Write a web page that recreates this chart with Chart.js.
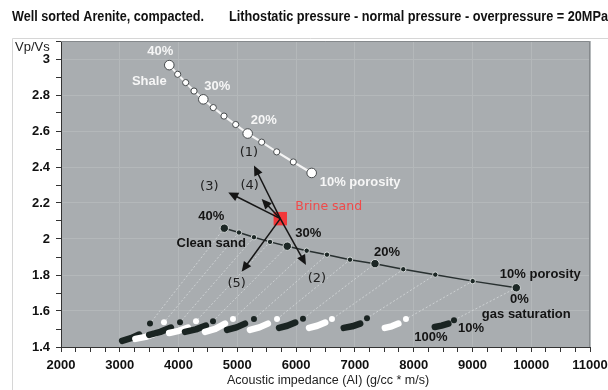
<!DOCTYPE html>
<html>
<head>
<meta charset="utf-8">
<script src="https://cdn.jsdelivr.net/npm/chart.js@4/dist/chart.umd.min.js"></script>
<style>
  html, body { margin: 0; padding: 0; background: #fff; }
  #wrap { width: 608px; height: 390px; }
</style>
</head>
<body>
<div id="wrap"><canvas id="rpt" width="608" height="390"></canvas></div>
<script>
// Shale trend, 40% -> 10% porosity in 2.5% steps
const shaleAI = [3842, 3985, 4121, 4263, 4421, 4591, 4773, 4972, 5176, 5414, 5670, 5952, 6265];
const shaleVpVs = [2.966, 2.915, 2.869, 2.822, 2.776, 2.730, 2.683, 2.636, 2.586, 2.538, 2.484, 2.428, 2.367];

// Clean (brine) sand trend, same porosity steps
const porosity = [40, 37.5, 35, 32.5, 30, 27.5, 25, 22.5, 20, 17.5, 15, 12.5, 10];
const sandAI = [4778, 5028, 5283, 5556, 5850, 6180, 6525, 6917, 7342, 7823, 8368, 9004, 9746];
const sandVpVs = [2.060, 2.036, 2.010, 1.984, 1.960, 1.935, 1.913, 1.885, 1.863, 1.832, 1.802, 1.766, 1.729];

// Gas saturation clusters, one per porosity step
const gas100AI = [3040, 3265, 3500, 3840, 4110, 4450, 4825, 5215, 5710, 6220, 6810, 7510, 8360];
const gas100VpVs = [1.434, 1.445, 1.467, 1.478, 1.484, 1.484, 1.495, 1.495, 1.506, 1.506, 1.506, 1.506, 1.511];
const gas60AI = [3190, 3440, 3690, 4005, 4295, 4625, 4985, 5375, 5850, 6360, 6955, 7625, 8475];
const gas60VpVs = [1.449, 1.456, 1.484, 1.490, 1.498, 1.501, 1.509, 1.509, 1.518, 1.518, 1.515, 1.515, 1.519];
const gas20AI = [3330, 3600, 3870, 4160, 4465, 4790, 5130, 5520, 5985, 6495, 7090, 7740, 8590];
const gas20VpVs = [1.469, 1.474, 1.508, 1.508, 1.519, 1.530, 1.530, 1.530, 1.536, 1.536, 1.530, 1.530, 1.530];
const gas10AI = [3514, 3752, 4025, 4297, 4586, 4926, 5283, 5675, 6117, 6610, 7206, 7869, 8686];
const gas10VpVs = [1.530, 1.537, 1.538, 1.543, 1.543, 1.555, 1.555, 1.555, 1.557, 1.555, 1.560, 1.555, 1.549];

// Brine sand and the five trend arrows
const brineAI = 5731;
const brineVpVs = 2.113;
const arrowLabels = ['(1)', '(2)', '(3)', '(4)', '(5)'];
const arrowAI = [5283, 6168, 4846, 5414, 5074];
const arrowVpVs = [2.408, 1.856, 2.259, 2.222, 1.818];

// Axis ticks
const xTicks = [2000, 3000, 4000, 5000, 6000, 7000, 8000, 9000, 10000, 11000];
const yTicks = [1.4, 1.6, 1.8, 2, 2.2, 2.4, 2.6, 2.8, 3];

const SANS = '"Liberation Sans", Arial, sans-serif';
const BLACK = '#1a2422';

const pts = (xs, ys) => xs.map((x, i) => ({ x: x, y: ys[i] }));
const isBig = i => porosity[i] % 10 === 0;

const datasets = [];

// faint fluid substitution lines: brine point -> 10% gas
sandAI.forEach((x, i) => {
    datasets.push({
        data: [{ x: x, y: sandVpVs[i] }, { x: gas10AI[i], y: gas10VpVs[i] }],
        showLine: true,
        borderColor: 'rgba(214,217,219,0.8)',
        borderWidth: 1,
        borderDash: [2, 2],
        pointRadius: 0,
        order: 60
    });
});

// thick 100% -> 20% gas strokes, alternating black / white
gas100AI.forEach((x, i) => {
    datasets.push({
        data: [{ x: x, y: gas100VpVs[i] }, { x: gas60AI[i], y: gas60VpVs[i] }, { x: gas20AI[i], y: gas20VpVs[i] }],
        showLine: true,
        borderColor: i % 2 === 0 ? BLACK : '#ffffff',
        borderWidth: 6.5,
        borderCapStyle: 'round',
        borderJoinStyle: 'round',
        pointRadius: 0,
        order: 50 - i
    });
});

datasets.push({
    data: pts(gas10AI, gas10VpVs),
    pointRadius: 3,
    pointBorderWidth: 0,
    pointBackgroundColor: gas10AI.map((v, i) => i % 2 === 0 ? BLACK : '#ffffff'),
    order: 30
});

datasets.push({
    data: pts(sandAI, sandVpVs),
    showLine: true,
    borderColor: '#283030',
    borderWidth: 1.5,
    pointRadius: sandAI.map((v, i) => isBig(i) ? 4.2 : 2.7),
    pointBackgroundColor: '#1c2725',
    pointBorderColor: '#d4d8d8',
    pointBorderWidth: 1,
    order: 20
});

datasets.push({
    data: pts(shaleAI, shaleVpVs),
    showLine: true,
    borderColor: '#f4f4f4',
    borderWidth: 2.2,
    pointRadius: shaleAI.map((v, i) => isBig(i) ? 4.8 : 3.1),
    pointBackgroundColor: '#ffffff',
    pointBorderColor: '#474b4d',
    pointBorderWidth: 1,
    order: 10
});

datasets.push({
    data: [{ x: brineAI, y: brineVpVs }],
    pointStyle: 'rect',
    pointRadius: 9.5,
    pointBackgroundColor: '#f2383a',
    pointBorderWidth: 0,
    order: 5
});

function text(ctx, s, x, y, font, color, align) {
    ctx.font = font;
    ctx.fillStyle = color;
    ctx.textAlign = align || 'center';
    ctx.textBaseline = 'middle';
    ctx.fillText(s, x, y);
}

// squeeze text horizontally into a given width (title font is condensed)
function fitText(ctx, s, x, y, font, width) {
    ctx.save();
    ctx.font = font;
    const w = ctx.measureText(s).width;
    ctx.translate(x, y);
    ctx.scale(width / w, 1);
    ctx.fillStyle = '#111';
    ctx.textAlign = 'left';
    ctx.textBaseline = 'middle';
    ctx.fillText(s, 0, 0);
    ctx.restore();
}

function arrow(ctx, x0, y0, x1, y1) {
    const ang = Math.atan2(y1 - y0, x1 - x0);
    const len = 10, half = 4.5;
    ctx.beginPath();
    ctx.moveTo(x0, y0);
    ctx.lineTo(x1 - Math.cos(ang) * len * 0.8, y1 - Math.sin(ang) * len * 0.8);
    ctx.stroke();
    ctx.beginPath();
    ctx.moveTo(x1, y1);
    ctx.lineTo(x1 - Math.cos(ang) * len - Math.sin(ang) * half, y1 - Math.sin(ang) * len + Math.cos(ang) * half);
    ctx.lineTo(x1 - Math.cos(ang) * len + Math.sin(ang) * half, y1 - Math.sin(ang) * len - Math.cos(ang) * half);
    ctx.closePath();
    ctx.fill();
}

const decorate = {
    id: 'decorate',
    beforeDraw(chart) {
        const { ctx, chartArea: a, width, height } = chart;
        ctx.save();
        ctx.fillStyle = '#ffffff';
        ctx.fillRect(0, 0, width, height);
        ctx.strokeStyle = '#d6d6d6';
        ctx.lineWidth = 1;
        ctx.beginPath();
        ctx.moveTo(12.5, height);
        ctx.lineTo(12.5, 38.5);
        ctx.lineTo(width, 38.5);
        ctx.stroke();
        ctx.fillStyle = '#a9adb0';
        ctx.fillRect(a.left, a.top, a.right - a.left, a.bottom - a.top);
        ctx.restore();
    },
    afterDatasetsDraw(chart) {
        const { ctx, chartArea: a } = chart;
        const X = v => chart.scales.x.getPixelForValue(v);
        const Y = v => chart.scales.y.getPixelForValue(v);
        ctx.save();

        // plot frame
        ctx.strokeStyle = '#85898c';
        ctx.lineWidth = 1;
        ctx.beginPath();
        ctx.moveTo(a.left, a.top + 0.5);
        ctx.lineTo(a.right - 0.5, a.top + 0.5);
        ctx.lineTo(a.right - 0.5, a.bottom);
        ctx.stroke();

        // arrows out of the brine sand square
        const bx = X(brineAI), by = Y(brineVpVs);
        const lblOff = [[-5, -13], [11, 14], [-19, -6], [-12, -13], [-5, 12]];
        ctx.strokeStyle = '#151515';
        ctx.fillStyle = '#151515';
        ctx.lineWidth = 1.5;
        arrowAI.forEach((v, i) => {
            arrow(ctx, bx, by, X(v), Y(arrowVpVs[i]));
        });
        arrowAI.forEach((v, i) => {
            text(ctx, arrowLabels[i], X(v) + lblOff[i][0], Y(arrowVpVs[i]) + lblOff[i][1], '13px "DejaVu Sans", sans-serif', '#1e1e1e', 'center');
        });
        text(ctx, 'Brine sand', bx + 15, by - 12, '12.5px "DejaVu Sans", sans-serif', '#f04a4a', 'left');

        const B = 'bold 13px ' + SANS;
        const W = '#f6f6f6';
        const K = '#141414';
        // shale labels
        const s = i => [X(shaleAI[i]), Y(shaleVpVs[i])];
        let p = s(0);
        text(ctx, '40%', p[0] - 9, p[1] - 14, B, W);
        text(ctx, 'Shale', p[0] - 20, p[1] + 16, B, W);
        p = s(4);
        text(ctx, '30%', p[0] + 14, p[1] - 13, B, W);
        p = s(8);
        text(ctx, '20%', p[0] + 16, p[1] - 13, B, W);
        p = s(12);
        text(ctx, '10% porosity', p[0] + 8, p[1] + 9, B, W, 'left');

        // clean sand labels
        const c = i => [X(sandAI[i]), Y(sandVpVs[i])];
        p = c(0);
        text(ctx, '40%', p[0] - 13, p[1] - 12, B, K);
        text(ctx, 'Clean sand', p[0] - 13, p[1] + 15, B, K);
        p = c(4);
        text(ctx, '30%', p[0] + 21, p[1] - 13, B, K);
        p = c(8);
        text(ctx, '20%', p[0] + 12, p[1] - 11, B, K);
        p = c(12);
        text(ctx, '10% porosity', p[0] + 24, p[1] - 13, B, K);
        text(ctx, '0%', p[0] + 3, p[1] + 12, B, K);
        text(ctx, 'gas saturation', p[0] + 10, p[1] + 27, B, K);
        const last = gas10AI.length - 1;
        text(ctx, '10%', X(gas10AI[last]) + 17, Y(gas10VpVs[last]) + 8, B, K);
        text(ctx, '100%', X(gas100AI[last]) - 4, Y(gas100VpVs[last]) + 10, B, K);
        ctx.restore();
    },
    afterDraw(chart) {
        const { ctx } = chart;
        ctx.save();
        fitText(ctx, 'Well sorted Arenite, compacted.', 12, 17, 'bold 14px ' + SANS, 192);
        fitText(ctx, 'Lithostatic pressure - normal pressure - overpressure = 20MPa', 229, 17, 'bold 14px ' + SANS, 379);
        text(ctx, 'Vp/Vs', 15, 47, '13px ' + SANS, '#222', 'left');
        text(ctx, 'Acoustic impedance (AI) (g/cc * m/s)', 328, 381, '12.5px ' + SANS, '#222', 'center');
        ctx.restore();
    }
};

new Chart(document.getElementById('rpt'), {
    type: 'scatter',
    data: { datasets: datasets },
    options: {
        responsive: false,
        animation: false,
        events: [],
        layout: { padding: { top: 41, right: 18, left: 0, bottom: 0 } },
        plugins: { legend: { display: false }, tooltip: { enabled: false } },
        scales: {
            x: {
                type: 'linear',
                min: xTicks[0],
                max: xTicks[xTicks.length - 1],
                afterFit: sc => { sc.height = 43; sc.paddingLeft = 0; sc.paddingRight = 0; },
                ticks: {
                    stepSize: 250,
                    autoSkip: false,
                    maxRotation: 0,
                    padding: 6,
                    color: '#111',
                    font: { family: SANS, size: 13, weight: 'bold' },
                    callback: v => xTicks.includes(v) ? String(v) : ''
                },
                grid: {
                    color: ctx => ctx.tick && xTicks.includes(ctx.tick.value) ? '#b4b8ba' : 'rgba(0,0,0,0)',
                    tickColor: '#333',
                    tickLength: 5
                },
                border: { color: '#333', width: 1 }
            },
            y: {
                type: 'linear',
                min: 1.4,
                max: 3.1,
                afterFit: sc => { sc.width = 61; sc.paddingTop = 0; sc.paddingBottom = 0; },
                ticks: {
                    stepSize: 0.1,
                    autoSkip: false,
                    padding: 6,
                    color: '#111',
                    font: { family: SANS, size: 13, weight: 'bold' },
                    callback: v => {
                        const r = Math.round(v * 10) / 10;
                        return yTicks.includes(r) ? String(r) : '';
                    }
                },
                grid: {
                    color: ctx => ctx.tick && yTicks.includes(Math.round(ctx.tick.value * 10) / 10) ? '#b4b8ba' : 'rgba(0,0,0,0)',
                    tickColor: '#333',
                    tickLength: 5
                },
                border: { color: '#333', width: 1 }
            }
        }
    },
    plugins: [decorate]
});
</script>
</body>
</html>
